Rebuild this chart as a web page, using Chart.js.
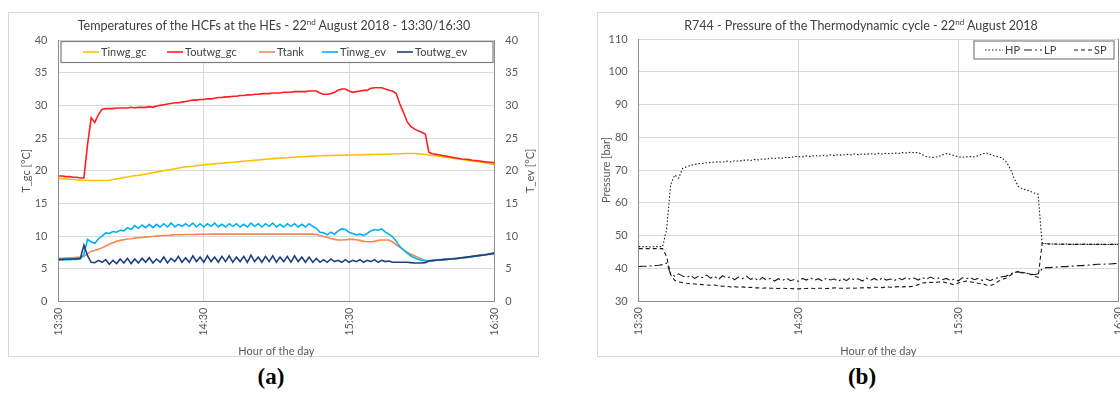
<!DOCTYPE html>
<html>
<head>
<meta charset="utf-8">
<script src="https://cdn.jsdelivr.net/npm/chart.js@4.4.0/dist/chart.umd.min.js"></script>
<style>
  html, body { margin: 0; padding: 0; background: #fff; }
  body { width: 1120px; height: 394px; position: relative; overflow: hidden; font-family: Lato, sans-serif; }
  .frame { position: absolute; border: 1px solid #d9d9d9; box-sizing: border-box; }
  .title { position: absolute; color: #404040; font-size: 12.5px; white-space: nowrap; transform: translateX(-50%); line-height: 16px; }
  .title sup { font-size: 8px; vertical-align: 5px; line-height: 0; }
  .caption { position: absolute; font-family: "Liberation Serif", serif; font-weight: bold; font-size: 23px; line-height: 26px; transform: translateX(-50%); color: #000; }
  canvas { position: absolute; top: 0; }
</style>
</head>
<body>
<div class="frame" style="left:8px; top:12px; width:531px; height:345px;"></div>
<div class="frame" style="left:597px; top:12px; width:540px; height:345px;"></div>

<canvas id="tempChart" width="560" height="362" style="left:0;"></canvas>
<canvas id="pressChart" width="560" height="362" style="left:560px;"></canvas>

<div class="title" style="left:274px; top:18px;">Temperatures of the HCFs at the HEs - 22<sup>nd</sup> August 2018 - 13:30/16:30</div>
<div class="title" style="left:861px; top:18px;">R744 - Pressure of the Thermodynamic cycle - 22<sup>nd</sup> August 2018</div>
<div class="caption" style="left:271px; top:364px;">(a)</div>
<div class="caption" style="left:862px; top:364px;">(b)</div>

<script>
// samples every 1.5 min starting at 13:30
const stepMin = 1.5;
const timeTicks = ['13:30', '14:30', '15:30', '16:30'];

// HCF temperatures [°C]
const tinwgGc = [
  18.8, 18.8, 18.75, 18.7, 18.65, 18.6, 18.55, 18.5, 18.5, 18.5,
  18.5, 18.5, 18.5, 18.5, 18.55, 18.65, 18.75, 18.85, 18.95, 19.05,
  19.15, 19.25, 19.3, 19.4, 19.5, 19.6, 19.7, 19.8, 19.9, 20.0,
  20.1, 20.2, 20.3, 20.4, 20.5, 20.6, 20.65, 20.7, 20.8, 20.85,
  20.9, 20.95, 21.0, 21.05, 21.1, 21.15, 21.2, 21.25, 21.3, 21.35,
  21.4, 21.45, 21.5, 21.55, 21.6, 21.65, 21.7, 21.75, 21.8, 21.85,
  21.9, 21.93, 21.96, 22.0, 22.03, 22.06, 22.1, 22.13, 22.16, 22.2,
  22.23, 22.26, 22.3, 22.3, 22.32, 22.34, 22.35, 22.36, 22.38, 22.39,
  22.4, 22.4, 22.42, 22.43, 22.44, 22.46, 22.47, 22.48, 22.5, 22.51,
  22.53, 22.55, 22.57, 22.59, 22.61, 22.63, 22.65, 22.65, 22.64, 22.6,
  22.55, 22.48, 22.4, 22.33, 22.25, 22.17, 22.1, 22.02, 21.95, 21.87,
  21.8, 21.72, 21.65, 21.58, 21.5, 21.43, 21.35, 21.25, 21.15, 21.05,
  20.95
];
const toutwgGc = [
  19.2, 19.2, 19.1, 19.1, 19.0, 19.0, 18.9, 18.9, 24.0, 28.1,
  27.4, 28.6, 29.4, 29.5, 29.5, 29.5, 29.6, 29.6, 29.6, 29.6,
  29.7, 29.6, 29.7, 29.7, 29.7, 29.8, 29.7, 29.9, 30.0, 30.1,
  30.2, 30.3, 30.4, 30.4, 30.5, 30.6, 30.7, 30.8, 30.8, 30.9,
  30.9, 31.0, 31.0, 31.1, 31.2, 31.2, 31.3, 31.3, 31.4, 31.4,
  31.5, 31.5, 31.6, 31.6, 31.7, 31.7, 31.8, 31.8, 31.8, 31.9,
  31.9, 31.9, 32.0, 32.0, 32.0, 32.1, 32.1, 32.1, 32.1, 32.2,
  32.2, 32.2, 31.9, 31.7, 31.7, 31.8, 32.0, 32.3, 32.5, 32.5,
  32.2, 32.0, 32.1, 32.2, 32.3, 32.3, 32.6, 32.7, 32.7, 32.7,
  32.5, 32.3, 32.2, 31.8, 30.2, 28.9, 27.5, 26.8, 26.4, 26.1,
  25.9, 25.6, 22.8, 22.6, 22.5, 22.4, 22.3, 22.2, 22.1, 22.0,
  21.9, 21.8, 21.75, 21.7, 21.6, 21.55, 21.5, 21.4, 21.35, 21.3,
  21.2
];
const tTank = [
  6.6, 6.6, 6.65, 6.7, 6.7, 6.75, 6.8, 6.9, 7.3, 7.7,
  7.8, 8.0, 8.2, 8.5, 8.75, 9.0, 9.2, 9.35, 9.45, 9.55,
  9.6, 9.7, 9.75, 9.8, 9.85, 9.9, 9.95, 10.0, 10.05, 10.1,
  10.1, 10.15, 10.2, 10.2, 10.22, 10.24, 10.25, 10.26, 10.27, 10.28,
  10.28, 10.29, 10.3, 10.3, 10.3, 10.3, 10.3, 10.3, 10.3, 10.3,
  10.3, 10.3, 10.3, 10.3, 10.3, 10.3, 10.3, 10.3, 10.3, 10.3,
  10.3, 10.3, 10.3, 10.3, 10.3, 10.3, 10.3, 10.3, 10.3, 10.3,
  10.3, 10.25, 10.1, 9.95, 9.8, 9.65, 9.5, 9.4, 9.4, 9.45,
  9.5, 9.5, 9.45, 9.35, 9.2, 9.15, 9.15, 9.2, 9.35, 9.4,
  9.4, 9.4, 9.1, 8.7, 8.3, 7.9, 7.55, 7.25, 7.0, 6.75,
  6.5, 6.3, 6.25, 6.3, 6.35, 6.4, 6.45, 6.5, 6.55, 6.6,
  6.65, 6.72, 6.78, 6.85, 6.92, 7.0, 7.08, 7.15, 7.25, 7.35,
  7.45
];
const tinwgEv = [
  6.35, 6.35, 6.4, 6.4, 6.45, 6.45, 6.5, 7.2, 9.5, 9.1,
  8.9, 9.6, 10.0, 10.5, 10.4, 10.7, 10.6, 10.9, 10.8, 11.3,
  11.0, 11.6, 11.2, 11.7, 11.3, 11.8, 11.3, 11.8, 11.4, 11.9,
  11.4, 12.0, 11.4, 11.8, 11.5, 11.9, 11.5, 12.0, 11.4, 11.9,
  11.4, 11.9, 11.5, 12.0, 11.4, 11.8, 11.4, 11.9, 11.5, 11.9,
  11.4, 11.8, 11.4, 12.0, 11.5, 11.9, 11.4, 11.9, 11.5, 12.0,
  11.4, 11.8, 11.4, 11.9, 11.5, 11.9, 11.4, 11.8, 11.4, 11.9,
  11.5, 11.2, 10.6, 10.5, 10.2, 10.6, 10.3, 10.8, 11.1, 11.0,
  10.6, 10.4, 10.2, 10.3, 10.1, 10.4, 10.8, 11.0, 10.9, 11.1,
  10.6, 10.3, 9.9, 9.2, 8.4, 7.9, 7.4, 7.0, 6.7, 6.45,
  6.3, 6.2, 6.2, 6.25, 6.3, 6.35, 6.4, 6.45, 6.5, 6.55,
  6.6, 6.65, 6.7, 6.78, 6.85, 6.92, 7.0, 7.08, 7.15, 7.22,
  7.3
];
const toutwgEv = [
  6.45, 6.45, 6.5, 6.5, 6.5, 6.55, 6.6, 8.6, 7.0, 6.0,
  5.95, 6.3, 6.0, 6.4, 5.7, 6.3, 5.8, 6.5, 5.9, 6.6,
  5.8, 6.5, 5.9, 6.6, 6.0, 6.7, 5.9, 6.5, 6.0, 6.8,
  5.9, 6.6, 6.1, 6.9, 6.0, 6.7, 6.0, 7.0, 6.1, 6.8,
  6.0, 7.0, 6.1, 6.8, 6.0, 6.9, 6.1, 7.0, 6.0, 6.8,
  6.1, 6.9, 6.0, 7.1, 6.1, 6.8, 6.0, 6.9, 6.1, 7.0,
  6.0, 6.8, 6.1, 6.9, 6.0, 7.0, 6.1, 6.8, 6.0, 6.8,
  6.0, 6.6, 6.0, 6.4, 6.0, 6.5, 6.1, 6.3, 6.0, 6.4,
  6.0, 6.3, 6.1, 6.4, 6.0, 6.3, 6.1, 6.4, 6.0, 6.3,
  6.1, 6.2, 6.0, 6.0, 6.0, 6.0, 6.0, 5.95, 5.9, 5.9,
  5.9, 5.95, 6.2, 6.25, 6.3, 6.35, 6.4, 6.45, 6.5, 6.55,
  6.6, 6.68, 6.75, 6.82, 6.9, 6.98, 7.05, 7.12, 7.2, 7.3,
  7.4
];

// R744 pressures [bar]
const hp = [
  46.6, 46.6, 46.6, 46.5, 46.6, 46.6, 46.6, 52.0, 65.5, 68.5,
  67.5, 70.5, 71.0, 71.4, 71.7, 71.9, 72.0, 72.2, 72.3, 72.4,
  72.5, 72.4, 72.7, 72.5, 72.8, 72.7, 72.9, 73.1, 72.9, 73.2,
  73.1, 73.4, 73.3, 73.6, 73.5, 73.7, 73.6, 73.9, 73.8, 74.1,
  74.1, 74.0, 74.3, 74.1, 74.4, 74.2, 74.5, 74.3, 74.6, 74.4,
  74.7, 74.5, 74.8, 74.6, 74.9, 74.7, 74.9, 74.8, 75.0, 74.8,
  75.1, 74.9, 75.1, 75.0, 75.2, 75.0, 75.3, 75.2, 75.4, 75.3,
  75.3, 74.7, 74.1, 73.9, 73.8, 74.1, 74.6, 75.0, 74.8, 74.4,
  74.0, 73.9, 74.0, 74.1, 74.0, 74.4, 74.9, 75.2, 74.8, 74.3,
  74.0, 73.7, 72.5, 70.5, 67.5, 65.0, 64.3, 63.9, 63.5, 63.0,
  62.6, 47.7, 47.5, 47.4, 47.4, 47.4, 47.3, 47.4, 47.3, 47.3,
  47.4, 47.3, 47.3, 47.3, 47.3, 47.3, 47.3, 47.2, 47.3, 47.3,
  47.3
];
const lp = [
  40.5, 40.6, 40.6, 40.7, 40.8, 40.9, 41.1, 41.6, 38.2, 37.6,
  38.3, 37.6, 37.2, 37.8, 36.9, 37.6, 37.1, 37.9, 37.0, 37.5,
  36.6, 37.7, 37.0, 37.4, 36.5, 37.3, 36.8, 37.6, 36.6, 37.0,
  36.2, 37.2, 36.4, 36.9, 36.1, 36.8, 36.3, 37.0, 36.2, 36.6,
  36.0, 36.9, 36.4, 37.1, 36.3, 36.8, 36.1, 37.0, 36.4, 36.7,
  36.0, 36.9, 36.2, 37.1, 36.4, 36.8, 36.1, 37.0, 36.3, 36.9,
  36.2, 37.1, 36.4, 36.7, 36.2, 37.0, 36.5, 37.2, 36.6, 37.0,
  36.4, 37.2, 36.6, 37.3, 36.8, 37.0, 36.5, 36.9, 36.3, 36.7,
  36.1, 37.1, 36.8, 37.2, 36.5, 36.9, 36.3, 36.7, 36.2, 36.8,
  37.1, 37.4, 37.6, 38.2, 38.8, 38.9, 38.6, 38.5, 38.3, 38.0,
  38.3, 39.8, 40.2, 40.2, 40.3, 40.4, 40.5, 40.5, 40.6, 40.7,
  40.8, 40.8, 40.9, 41.0, 41.1, 41.2, 41.2, 41.3, 41.3, 41.4,
  41.5
];
const sp = [
  46.0, 46.0, 46.0, 46.0, 46.0, 46.0, 46.0, 43.5, 38.0, 36.3,
  35.8, 35.6, 35.4, 35.3, 35.2, 35.1, 35.0, 34.9, 34.8, 34.9,
  34.6, 34.5, 34.6, 34.3, 34.4, 34.2, 34.3, 34.1, 34.2, 34.0,
  34.0, 33.9, 34.0, 33.9, 33.9, 33.8, 33.9, 33.8, 33.8, 33.7,
  33.7, 33.8, 33.8, 33.9, 33.8, 33.9, 33.9, 33.8, 33.9, 34.0,
  33.9, 33.9, 33.9, 34.0, 33.9, 34.0, 34.0, 34.1, 34.0, 34.2,
  34.2, 34.1, 34.3, 34.2, 34.3, 34.4, 34.3, 34.4, 34.4, 34.6,
  35.0, 35.5, 35.6, 35.7, 35.6, 35.8, 35.9, 35.6, 35.3, 34.9,
  35.5, 35.8, 36.1, 35.9, 35.6, 35.4, 35.3, 34.9, 34.7, 35.1,
  36.0, 36.6, 37.0, 37.8, 38.6, 39.0, 38.8, 38.5, 38.2, 37.7,
  37.2, 47.6, 47.5, 47.4, 47.4, 47.3, 47.4, 47.3, 47.3, 47.3,
  47.3, 47.3, 47.4, 47.3, 47.3, 47.3, 47.3, 47.3, 47.3, 47.3,
  47.3
];

Chart.defaults.font.family = 'Lato, sans-serif';
Chart.defaults.font.size = 11;
Chart.defaults.color = '#595959';

const points = vals => vals.map((v, i) => ({ x: i * stepMin, y: v }));

// legend drawn as a framed box inside the plot
const boxLegend = {
  id: 'boxLegend',
  afterDraw(chart, args, opts) {
    const { ctx } = chart;
    const [bx, by, bw, bh] = opts.box;
    const midY = by + bh / 2;
    ctx.save();
    ctx.fillStyle = '#ffffff';
    ctx.fillRect(bx, by, bw, bh);
    ctx.strokeStyle = '#7f7f7f';
    ctx.lineWidth = 1.2;
    ctx.strokeRect(bx, by, bw, bh);
    ctx.font = '11px Lato, sans-serif';
    ctx.textBaseline = 'middle';
    chart.data.datasets.forEach((ds, i) => {
      const x = opts.itemX[i];
      ctx.beginPath();
      ctx.setLineDash(ds.borderDash || []);
      ctx.strokeStyle = ds.borderColor;
      ctx.lineWidth = ds.borderWidth;
      ctx.moveTo(x, midY);
      ctx.lineTo(x + opts.sampleWidth, midY);
      ctx.stroke();
      ctx.setLineDash([]);
      ctx.fillStyle = '#404040';
      ctx.fillText(ds.label, x + opts.sampleWidth + 2, midY + 0.5);
    });
    ctx.restore();
  }
};

// secondary axis title, rotated like the primary one
const sideTitle = {
  id: 'sideTitle',
  afterDraw(chart, args, opts) {
    if (!opts.text) return;
    const { ctx, chartArea } = chart;
    ctx.save();
    ctx.translate(opts.x, (chartArea.top + chartArea.bottom) / 2);
    ctx.rotate(-Math.PI / 2);
    ctx.font = '11px Lato, sans-serif';
    ctx.fillStyle = '#595959';
    ctx.textAlign = 'center';
    ctx.textBaseline = 'middle';
    ctx.fillText(opts.text, 0, 0);
    ctx.restore();
  }
};

function timeAxis(height) {
  return {
    type: 'linear',
    min: 0,
    max: 180,
    ticks: {
      stepSize: 60,
      autoSkip: false,
      minRotation: 90,
      maxRotation: 90,
      padding: 6,
      callback: v => timeTicks[v / 60]
    },
    grid: {
      drawTicks: false,
      color: c => (c.tick && c.tick.value === 180) ? '#8c8c8c' : '#d9d9d9'
    },
    border: { color: '#8c8c8c', width: 1 },
    title: { display: true, text: 'Hour of the day', padding: { top: 0, bottom: 4 } },
    afterFit: s => {
      s.height = height;
      s.paddingLeft = 0;
      s.paddingRight = 0;
    }
  };
}

function valueAxis(pos, min, max, step, width, title) {
  return {
    position: pos,
    min: min,
    max: max,
    ticks: { stepSize: step, padding: 11 },
    grid: { display: pos === 'left', drawTicks: false, color: '#d9d9d9' },
    border: { color: '#8c8c8c', width: 1 },
    title: { display: !!title, text: title, padding: { top: 4, bottom: 0 } },
    afterFit: s => {
      s.width = width;
      s.paddingTop = 0;
      s.paddingBottom = 0;
    }
  };
}

const tempSeries = [
  { label: 'Tinwg_gc', data: tinwgGc, color: '#ffc000' },
  { label: 'Toutwg_gc', data: toutwgGc, color: '#ff1f1f' },
  { label: 'Ttank', data: tTank, color: '#f4894b' },
  { label: 'Tinwg_ev', data: tinwgEv, color: '#00b0f0' },
  { label: 'Toutwg_ev', data: toutwgEv, color: '#203f80' }
];

new Chart(document.getElementById('tempChart'), {
  type: 'line',
  data: {
    datasets: tempSeries.map((s, i) => ({
      label: s.label,
      data: points(s.data),
      borderColor: s.color,
      borderWidth: 1.6,
      pointRadius: 0,
      tension: 0,
      yAxisID: 'y',
      order: tempSeries.length - i
    }))
  },
  options: {
    responsive: false,
    animation: false,
    layout: { padding: { left: 16, right: 18.7, top: 40, bottom: 0 } },
    scales: {
      x: timeAxis(60.5),
      y: valueAxis('left', 0, 40, 5, 42.5, 'T_gc [°C]'),
      y2: valueAxis('right', 0, 40, 5, 47, '')
    },
    plugins: {
      legend: { display: false },
      tooltip: { enabled: false },
      boxLegend: { box: [61, 41.5, 432, 21], itemX: [83, 167, 259, 322, 397], sampleWidth: 16 },
      sideTitle: { text: 'T_ev [°C]', x: 530 }
    }
  },
  plugins: [boxLegend, sideTitle]
});

const pressSeries = [
  { label: 'HP', data: hp, dash: [1.5, 2] },
  { label: 'LP', data: lp, dash: [8, 3, 2, 3] },
  { label: 'SP', data: sp, dash: [4, 3] }
];

new Chart(document.getElementById('pressChart'), {
  type: 'line',
  data: {
    datasets: pressSeries.map(s => ({
      label: s.label,
      data: points(s.data),
      borderColor: '#1a1a1a',
      borderWidth: 1.1,
      borderDash: s.dash,
      pointRadius: 0,
      tension: 0
    }))
  },
  options: {
    responsive: false,
    animation: false,
    layout: { padding: { left: 36, right: 2, top: 39, bottom: 0 } },
    scales: {
      x: timeAxis(61),
      y: valueAxis('left', 30, 110, 10, 42.7, 'Pressure [bar]')
    },
    plugins: {
      legend: { display: false },
      tooltip: { enabled: false },
      boxLegend: { box: [414, 41, 140, 18], itemX: [425, 464, 514], sampleWidth: 18 }
    }
  },
  plugins: [boxLegend]
});
</script>
</body>
</html>
